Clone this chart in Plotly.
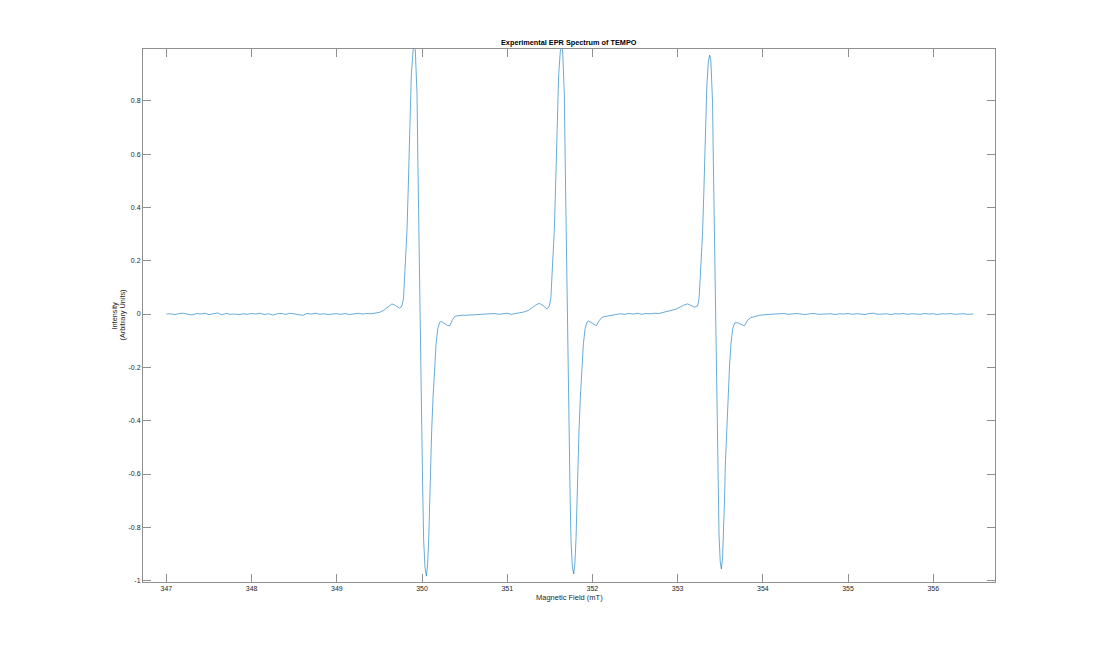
import plotly.graph_objects as go

# ---- data (field in mT, intensity in arbitrary units) ----
base_left_x = [347.00, 347.05, 347.10, 347.15, 347.20, 347.25, 347.30, 347.35, 347.40, 347.45,
               347.50, 347.55, 347.60, 347.65, 347.70, 347.75, 347.80, 347.85, 347.90, 347.95,
               348.00, 348.05, 348.10, 348.15, 348.20, 348.25, 348.30, 348.35, 348.40, 348.45,
               348.50, 348.55, 348.60, 348.65, 348.70, 348.75, 348.80, 348.85, 348.90, 348.95,
               349.00, 349.05, 349.10, 349.15, 349.20, 349.25, 349.30, 349.35, 349.40]
base_left_y = [0.000, 0.001, -0.002, 0.002, 0.003, -0.001, -0.004, 0.002, 0.000, 0.003,
               -0.002, 0.001, 0.004, -0.003, 0.002, -0.001, 0.000, -0.002, 0.001, -0.001,
               0.002, 0.000, 0.003, -0.002, 0.001, -0.004, 0.001, 0.002, -0.001, 0.003,
               0.001, -0.002, -0.005, 0.002, 0.000, 0.003, -0.001, 0.001, -0.002, 0.000,
               0.001, -0.001, 0.002, -0.002, 0.001, 0.003, 0.000, 0.002, 0.001]

line1_x = [349.45, 349.50, 349.55, 349.60, 349.647, 349.69, 349.736, 349.765, 349.783, 349.792,
           349.808, 349.824, 349.838, 349.851, 349.863, 349.874, 349.894, 349.909, 349.921, 349.930,
           349.941, 349.950, 349.960, 349.970, 349.980, 349.988, 349.996, 350.008, 350.019, 350.035,
           350.051, 350.065, 350.078, 350.088, 350.098, 350.113, 350.129, 350.147, 350.165, 350.185,
           350.207, 350.227, 350.270, 350.300, 350.325, 350.360, 350.390, 350.450, 350.550, 350.650,
           350.750]
line1_y = [0.003, 0.006, 0.014, 0.028, 0.038, 0.032, 0.022, 0.030, 0.060, 0.116,
           0.210, 0.317, 0.470, 0.625, 0.770, 0.894, 0.985, 1.010, 0.990, 0.930,
           0.826, 0.600, 0.357, 0.120, -0.045, -0.240, -0.446, -0.660, -0.848, -0.950,
           -0.983, -0.940, -0.848, -0.720, -0.580, -0.440, -0.313, -0.200, -0.111, -0.055,
           -0.031, -0.028, -0.036, -0.043, -0.044, -0.020, -0.008, -0.005, -0.004, -0.002,
           -0.001]

base_mid1_x = [350.80, 350.85, 350.90, 350.95, 351.00, 351.05, 351.10, 351.15, 351.20, 351.25]
base_mid1_y = [0.000, 0.002, -0.001, 0.001, 0.003, -0.001, 0.002, 0.004, 0.008, 0.014]

line2_x = [351.30, 351.34, 351.376, 351.42, 351.465, 351.494, 351.512, 351.521, 351.537, 351.553,
           351.567, 351.580, 351.592, 351.603, 351.623, 351.638, 351.650, 351.659, 351.670, 351.679,
           351.689, 351.699, 351.709, 351.717, 351.725, 351.737, 351.748, 351.764, 351.780, 351.794,
           351.807, 351.817, 351.827, 351.842, 351.858, 351.876, 351.894, 351.914, 351.936, 351.956,
           351.999, 352.029, 352.045, 352.080, 352.115, 352.137, 352.200, 352.270]
line2_y = [0.026, 0.035, 0.040, 0.032, 0.019, 0.030, 0.060, 0.116, 0.210, 0.317,
           0.470, 0.625, 0.770, 0.894, 0.985, 1.010, 0.990, 0.930, 0.826, 0.600,
           0.357, 0.120, -0.045, -0.240, -0.446, -0.660, -0.845, -0.945, -0.975, -0.935,
           -0.845, -0.720, -0.580, -0.440, -0.313, -0.200, -0.111, -0.055, -0.031, -0.026,
           -0.036, -0.043, -0.044, -0.024, -0.012, -0.010, -0.005, -0.002]

base_mid2_x = [352.33, 352.38, 352.43, 352.48, 352.53, 352.58, 352.63, 352.68, 352.73, 352.78,
               352.83, 352.88, 352.93]
base_mid2_y = [0.001, -0.001, 0.002, 0.000, 0.003, -0.001, 0.002, 0.001, 0.003, 0.002,
               0.006, 0.010, 0.016]

line3_x = [352.98, 353.03, 353.07, 353.118, 353.16, 353.195, 353.235, 353.252, 353.261, 353.277,
           353.293, 353.307, 353.320, 353.332, 353.343, 353.360, 353.376, 353.390, 353.399, 353.410,
           353.419, 353.429, 353.439, 353.449, 353.457, 353.465, 353.476, 353.486, 353.500, 353.513,
           353.527, 353.540, 353.550, 353.560, 353.575, 353.591, 353.609, 353.627, 353.647, 353.669,
           353.698, 353.740, 353.765, 353.784, 353.820, 353.860, 353.901, 353.960, 354.040]
line3_y = [0.018, 0.026, 0.033, 0.038, 0.032, 0.026, 0.030, 0.060, 0.112, 0.202,
           0.305, 0.451, 0.600, 0.740, 0.858, 0.945, 0.971, 0.950, 0.893, 0.793,
           0.576, 0.343, 0.115, -0.043, -0.235, -0.436, -0.645, -0.830, -0.928, -0.956,
           -0.918, -0.828, -0.703, -0.566, -0.430, -0.306, -0.195, -0.108, -0.054, -0.034,
           -0.032, -0.038, -0.043, -0.044, -0.024, -0.013, -0.010, -0.005, -0.002]

base_right_x = [354.10, 354.15, 354.20, 354.25, 354.30, 354.35, 354.40, 354.45, 354.50, 354.55,
                354.60, 354.65, 354.70, 354.75, 354.80, 354.85, 354.90, 354.95, 355.00, 355.05,
                355.10, 355.15, 355.20, 355.25, 355.30, 355.35, 355.40, 355.45, 355.50, 355.55,
                355.60, 355.65, 355.70, 355.75, 355.80, 355.85, 355.90, 355.95, 356.00, 356.05,
                356.10, 356.15, 356.20, 356.25, 356.30, 356.35, 356.40, 356.47]
base_right_y = [-0.001, 0.001, 0.000, 0.002, -0.001, 0.001, 0.002, 0.000, -0.002, 0.001,
                0.002, -0.001, 0.000, 0.002, 0.001, -0.002, 0.001, 0.000, 0.002, -0.001,
                0.001, 0.000, -0.002, 0.002, 0.003, -0.001, 0.000, 0.001, -0.002, 0.001,
                0.000, 0.002, -0.001, 0.001, 0.000, -0.001, 0.002, 0.000, 0.001, -0.002,
                0.001, 0.000, 0.002, -0.001, 0.000, 0.001, -0.001, 0.000]

field_mT = base_left_x + line1_x + base_mid1_x + line2_x + base_mid2_x + line3_x + base_right_x
intensity = base_left_y + line1_y + base_mid1_y + line2_y + base_mid2_y + line3_y + base_right_y

x_ticks = [347, 348, 349, 350, 351, 352, 353, 354, 355, 356]
x_tick_labels = ["347", "348", "349", "350", "351", "352", "353", "354", "355", "356"]
y_ticks = [-1, -0.8, -0.6, -0.4, -0.2, 0, 0.2, 0.4, 0.6, 0.8]
y_tick_labels = ["-1", "-0.8", "-0.6", "-0.4", "-0.2", "0", "0.2", "0.4", "0.6", "0.8"]

title_text = "Experimental EPR Spectrum of TEMPO"
x_label = "Magnetic Field (mT)"
y_label_lines = ["Intensity", "(Arbitrary Units)"]

FONT = "Liberation Sans, Arial, Helvetica, sans-serif"
AXIS_COLOR = "#8f8f8f"
TEXT_COLOR = "#262626"

fig = go.Figure()
fig.add_trace(go.Scatter(x=field_mT, y=intensity, mode="lines",
                         line=dict(color="#0072BD", width=0.6),
                         showlegend=False, hoverinfo="x+y"))

axis_common = dict(showline=True, linecolor=AXIS_COLOR, linewidth=1, mirror="ticks",
                   ticks="inside", ticklen=8, tickwidth=1, tickcolor=AXIS_COLOR,
                   showgrid=False, zeroline=False,
                   tickfont=dict(family=FONT, size=7, color=TEXT_COLOR))

annotations = [
    dict(text="<b>" + title_text + "</b>", xref="paper", yref="paper", x=0.5, y=1.0,
         xanchor="center", yanchor="bottom", showarrow=False, yshift=0,
         font=dict(family=FONT, size=7.3, color="black")),
    dict(text=x_label, xref="paper", yref="paper", x=0.5, y=-0.030,
         xanchor="center", yanchor="middle", showarrow=False,
         font=dict(family=FONT, size=7.5, color=TEXT_COLOR)),
]
for xp, txt in zip([-0.0329, -0.0246], y_label_lines):
    annotations.append(dict(text=txt, xref="paper", yref="paper", x=xp, y=0.5,
                            xanchor="center", yanchor="middle", showarrow=False,
                            textangle=-90,
                            font=dict(family=FONT, size=7.3, color=TEXT_COLOR)))

fig.update_layout(
    width=1100, height=654,
    margin=dict(l=143, r=105, t=49, b=72, pad=0),
    paper_bgcolor="white", plot_bgcolor="white",
    xaxis=dict(range=[346.725, 356.725], tickmode="array", tickvals=x_ticks,
               ticktext=x_tick_labels, **axis_common),
    yaxis=dict(range=[-1.005, 0.994], tickmode="array", tickvals=y_ticks,
               ticktext=y_tick_labels, **axis_common),
    annotations=annotations,
)

fig.write_html("out.html")
